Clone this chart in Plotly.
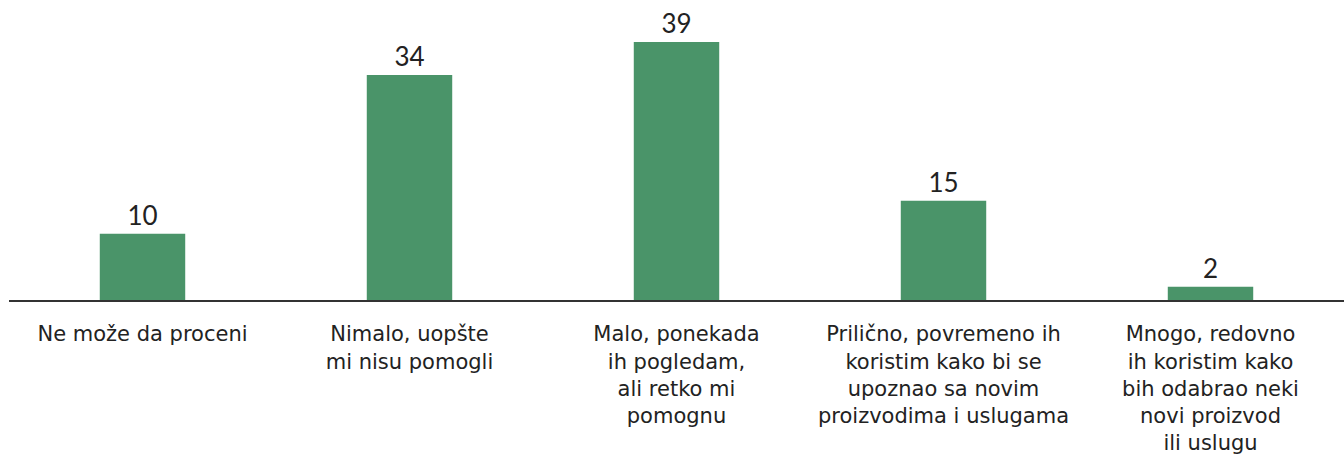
import plotly.graph_objects as go

categories = [
    "Ne može da proceni",
    "Nimalo, uopšte<br>mi nisu pomogli",
    "Malo, ponekada<br>ih pogledam,<br>ali retko mi<br>pomognu",
    "Prilično, povremeno ih<br>koristim kako bi se<br>upoznao sa novim<br>proizvodima i uslugama",
    "Mnogo, redovno<br>ih koristim kako<br>bih odabrao neki<br>novi proizvod<br>ili uslugu",
]
values = [10, 34, 39, 15, 2]

bar_color = "#4A9469"
text_color = "#222222"

fig = go.Figure(
    go.Bar(
        x=categories,
        y=values,
        marker=dict(color=bar_color, line=dict(width=0)),
        text=[str(v) for v in values],
        textposition="outside",
        textfont=dict(family="Lato", size=26, color=text_color),
        cliponaxis=False,
    )
)

fig.update_layout(
    width=1344,
    height=459,
    margin=dict(l=9, r=0, t=0, b=159),
    paper_bgcolor="white",
    plot_bgcolor="white",
    bargap=0.68,
    showlegend=False,
    xaxis=dict(
        showline=True,
        linecolor="#333333",
        linewidth=2,
        ticks="",
        showgrid=False,
        tickfont=dict(family="DejaVu Sans", size=21, color=text_color),
        ticklabelstandoff=14,
    ),
    yaxis=dict(
        range=[0, 45.35],
        visible=False,
        showgrid=False,
        zeroline=False,
    ),
)

fig.write_html("out.html")
